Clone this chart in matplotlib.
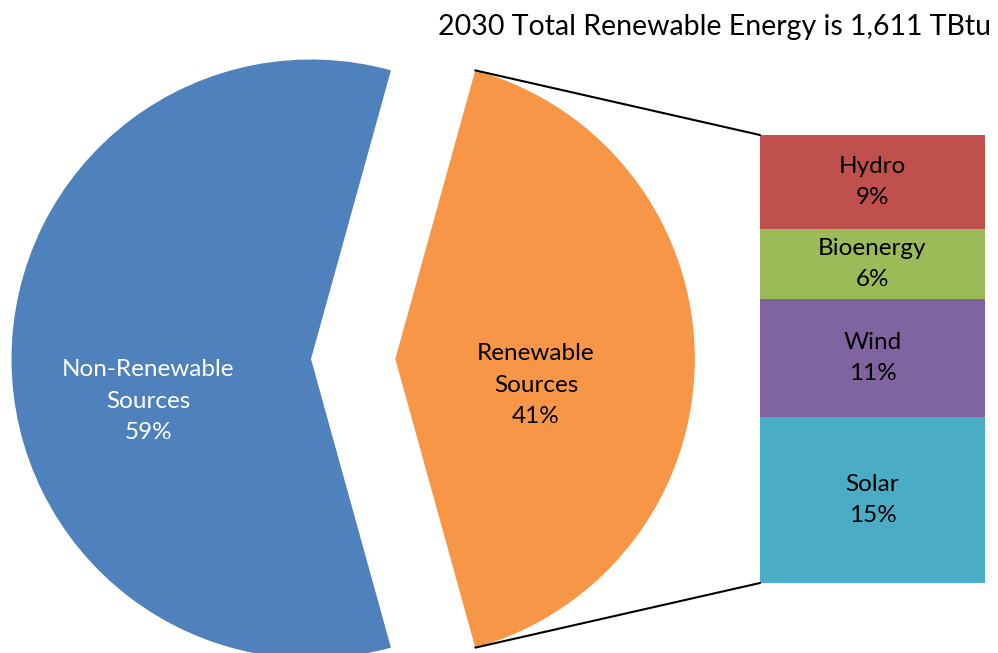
import matplotlib
matplotlib.use("Agg")
import matplotlib.pyplot as plt
from matplotlib.patches import ConnectionPatch
import numpy as np

plt.rcParams['font.family'] = ['Lato', 'DejaVu Sans']

# Data
pie_labels = ["Non-Renewable\nSources", "Renewable\nSources"]
pie_values = [58.6, 41.4]
pie_colors = ["#4F81BD", "#F79646"]
pie_text_colors = ["white", "black"]

bar_labels = ["Solar", "Wind", "Bioenergy", "Hydro"]
bar_values = [15.37, 10.88, 6.47, 8.68]
bar_colors = ["#4BACC6", "#8064A2", "#9BBB59", "#C0504D"]

title = "2030 Total Renewable Energy is 1,611 TBtu"

W, H = 998, 653
fig = plt.figure(figsize=(W / 100, H / 100), dpi=100)
ax = fig.add_axes([0, 0, 1, 1])

start = 360 * pie_values[1] / sum(pie_values) / 2
wedges, _ = ax.pie(pie_values, colors=pie_colors, center=(311, 294), radius=299.5,
                   explode=[0, 84.3], startangle=start, counterclock=True,
                   wedgeprops=dict(linewidth=0), frame=True)
ax.set_xlim(0, W)
ax.set_ylim(0, H)
ax.set_aspect('auto')
ax.axis('off')

FS = 17.5
LS = 1.6

# pie labels
label_pos = [(148, H - 401), (536, H - 385)]
for lab, val, col, pos in zip(pie_labels, pie_values, pie_text_colors, label_pos):
    ax.text(pos[0], pos[1], f"{lab}\n{round(val)}%", ha='center', va='center',
            color=col, fontsize=FS, linespacing=LS)

ax.text(715, H - 27, title, ha='center', va='center', fontsize=20.5, color='black')

# stacked bar
bax = fig.add_axes([760 / W, 70 / H, 225 / W, 448 / H])
total = sum(bar_values)
bottom = 0
for lab, val, col in zip(bar_labels, bar_values, bar_colors):
    bax.bar(0, val, bottom=bottom, width=1, color=col, linewidth=0)
    bax.text(0, bottom + val / 2, f"{lab}\n{round(val)}%", ha='center', va='center',
             fontsize=FS, linespacing=LS, color='black')
    bottom += val
bax.set_xlim(-0.5, 0.5)
bax.set_ylim(0, total)
bax.axis('off')

# connector lines
w = wedges[1]
cx, cy = w.center
r = w.r
for th, yb in [(w.theta2, 1), (w.theta1, 0)]:
    p = (cx + r * np.cos(np.radians(th)), cy + r * np.sin(np.radians(th)))
    con = ConnectionPatch(xyA=p, coordsA=ax.transData, xyB=(0, yb), coordsB=bax.transAxes,
                          color='black', linewidth=1.5)
    fig.add_artist(con)

fig.savefig("out.png", dpi=100)
